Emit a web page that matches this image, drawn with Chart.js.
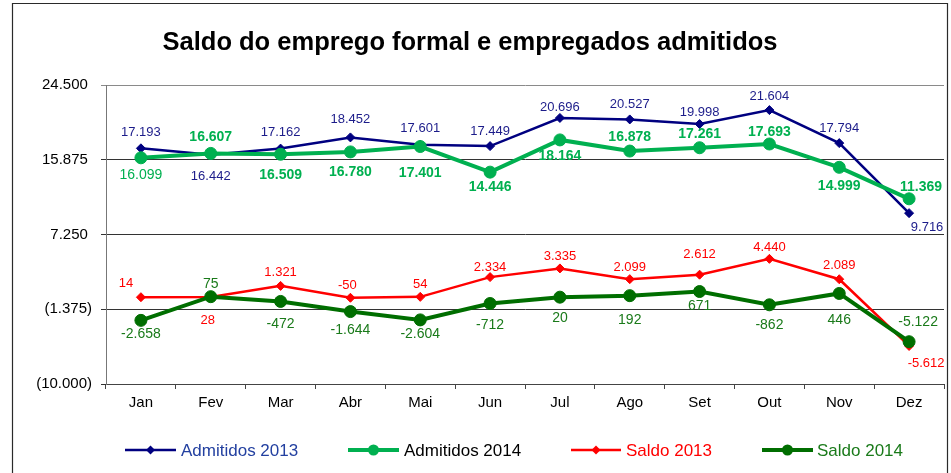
<!DOCTYPE html>
<html><head><meta charset="utf-8">
<script src="https://cdn.jsdelivr.net/npm/chart.js@4.4.0/dist/chart.umd.min.js"></script>
<style>html,body{margin:0;padding:0;background:#fff;overflow:hidden}#wrap{position:relative;width:951px;height:473px}</style>
</head><body><div id="wrap"><canvas id="c" width="951" height="473"></canvas></div>
<script>
const months = ['Jan','Fev','Mar','Abr','Mai','Jun','Jul','Ago','Set','Out','Nov','Dez'];
const admitidos2013 = [17193,16442,17162,18452,17601,17449,20696,20527,19998,21604,17794,9716];
const admitidos2014 = [16099,16607,16509,16780,17401,14446,18164,16878,17261,17693,14999,11369];
const saldo2013 = [14,28,1321,-50,54,2334,3335,2099,2612,4440,2089,-5612];
const saldo2014 = [-2658,75,-472,-1644,-2604,-712,20,192,671,-862,446,-5122];
const yTicks = [-10000,-1375,7250,15875,24500];
const seriesNames = ['Admitidos 2013','Admitidos 2014','Saldo 2013','Saldo 2014'];
const chartTitle = 'Saldo do emprego formal e empregados admitidos';

const FONT = '"Liberation Sans", Arial, sans-serif';

// label placement (style): [dx, dy] offsets from each point
const labelOffsets = [
 [[0,-16],[0,22],[0,-16],[0,-18],[0,-16],[0,-15],[0,-11],[0,-15],[0,-12],[0,-14],[0,-15],[18,14]],
 [[0,17],[0,-16],[0,21],[0,20],[0,27],[0,15],[0,16],[0,-14],[0,-14],[0,-12],[0,19],[12,-12]],
 [[-15,-14],[-3,23],[0,-13],[-3,-12],[0,-12],[0,-10],[0,-12],[0,-12],[0,-20],[0,-11],[0,-14],[17,17]],
 [[0,14],[0,-13],[0,23],[0,19],[0,14],[0,22],[0,21],[0,24],[0,15],[0,20],[0,27],[9,-20]]
];
const labelStyles = [
 {color:'#1c1c8a', font:'13px '+FONT},
 {color:'#00b050', font:'bold 14px '+FONT},
 {color:'#ff0000', font:'13px '+FONT},
 {color:'#1a7a1a', font:'14px '+FONT}
];
// per-point font override (style): Admitidos 2014, Jan shown in normal weight
const labelFontOverride = {'1-0':'14px '+FONT};
const legendItems = [
 {x0:125,x1:176,tx:181,color:'#000080',text:'#2340a0',lw:2.5,style:'d',r:4.5},
 {x0:348,x1:399,tx:404,color:'#00b050',text:'#000000',lw:4,style:'c',r:5.5},
 {x0:571,x1:621,tx:626,color:'#ff0000',text:'#ff0000',lw:2.5,style:'d',r:4.5},
 {x0:762,x1:813,tx:817,color:'#006e00',text:'#1a7a1a',lw:4,style:'c',r:5.5}
];

function thousands(v){
  return Math.abs(Math.round(v)).toString().replace(/\B(?=(\d{3})+(?!\d))/g,'.');
}
function fmtLabel(v){ return (v<0?'-':'')+thousands(v); }
function fmtTick(v){ return v<0 ? '('+thousands(v)+')' : thousands(v)+' '; }

function drawMarker(ctx, style, x, y, r, color){
  ctx.save();
  ctx.fillStyle = color;
  ctx.beginPath();
  if(style==='d'){
    ctx.moveTo(x, y-r); ctx.lineTo(x+r, y); ctx.lineTo(x, y+r); ctx.lineTo(x-r, y); ctx.closePath();
  } else {
    ctx.arc(x, y, r, 0, Math.PI*2);
  }
  ctx.fill();
  ctx.restore();
}

const decoPlugin = {
  id:'deco',
  beforeDraw(chart){
    const ctx = chart.ctx;
    ctx.save();
    ctx.fillStyle='#fff';
    ctx.fillRect(0,0,chart.width,chart.height);
    ctx.strokeStyle='#2a2a2a';
    ctx.lineWidth=1.2;
    ctx.beginPath();
    ctx.moveTo(12.5,480); ctx.lineTo(12.5,3.5); ctx.lineTo(947.5,3.5); ctx.lineTo(947.5,480);
    ctx.stroke();
    ctx.fillStyle='#000';
    ctx.font='bold 25.5px '+FONT;
    ctx.textAlign='center'; ctx.textBaseline='middle';
    ctx.fillText(chartTitle, 470, 43);
    ctx.restore();
  },
  afterDatasetsDraw(chart){
    const ctx = chart.ctx;
    ctx.save();
    ctx.textAlign='center'; ctx.textBaseline='middle';
    chart.data.datasets.forEach((ds, di)=>{
      const meta = chart.getDatasetMeta(di);
      ctx.fillStyle = labelStyles[di].color;
      meta.data.forEach((pt, i)=>{
        ctx.font = labelFontOverride[di+'-'+i] || labelStyles[di].font;
        const off = labelOffsets[di][i];
        ctx.fillText(fmtLabel(ds.data[i]), pt.x+off[0], pt.y+off[1]);
      });
    });
    ctx.restore();
  },
  afterDraw(chart){
    const ctx = chart.ctx;
    ctx.save();
    const y = 450;
    ctx.font = '17px '+FONT;
    ctx.textAlign='left'; ctx.textBaseline='middle';
    legendItems.forEach((it, i)=>{
      ctx.strokeStyle = it.color; ctx.lineWidth = it.lw;
      ctx.beginPath(); ctx.moveTo(it.x0, y); ctx.lineTo(it.x1, y); ctx.stroke();
      drawMarker(ctx, it.style, (it.x0+it.x1)/2, y, it.r, it.color);
      ctx.fillStyle = it.text;
      ctx.fillText(seriesNames[i], it.tx, y+1);
    });
    ctx.restore();
  }
};

new Chart(document.getElementById('c'), {
  type:'line',
  data:{
    labels: months,
    datasets:[
      {label:seriesNames[0], data:admitidos2013, borderColor:'#000080', backgroundColor:'#000080', borderWidth:2.5, pointStyle:'rectRot', pointRadius:4.5, pointBorderWidth:1, order:4, tension:0},
      {label:seriesNames[1], data:admitidos2014, borderColor:'#00b050', backgroundColor:'#00b050', borderWidth:4, pointStyle:'circle', pointRadius:6, pointBorderWidth:1, order:3, tension:0},
      {label:seriesNames[2], data:saldo2013, borderColor:'#ff0000', backgroundColor:'#ff0000', borderWidth:2.5, pointStyle:'rectRot', pointRadius:4.5, pointBorderWidth:1, order:2, tension:0},
      {label:seriesNames[3], data:saldo2014, borderColor:'#006e00', backgroundColor:'#006e00', borderWidth:4, pointStyle:'circle', pointRadius:6, pointBorderWidth:1, order:1, tension:0}
    ]
  },
  options:{
    responsive:false, animation:false, devicePixelRatio:1,
    layout:{padding:{left:0,top:85,right:6,bottom:0}},
    plugins:{legend:{display:false}, title:{display:false}, tooltip:{enabled:false}},
    scales:{
      x:{
        offset:true,
        grid:{drawOnChartArea:false, drawTicks:true, tickLength:5, offset:true, color:'#444'},
        border:{color:'#444', width:1},
        ticks:{color:'#000', font:{family:FONT, size:15}, padding:5, maxRotation:0, autoSkip:false},
        afterFit(s){ s.height = 473-384; }
      },
      y:{
        min:-10000, max:24500,
        afterBuildTicks(s){ s.ticks = yTicks.map(v=>({value:v})); },
        grid:{color:(c)=> c.tick && c.tick.value===24500 ? '#8a8a8a' : '#333', drawTicks:true, tickLength:5, lineWidth:1},
        border:{color:'#777', width:1},
        ticks:{color:'#000', font:{family:FONT, size:15}, padding:9, callback:(v)=>fmtTick(v)},
        afterFit(s){ s.width = 106; }
      }
    }
  },
  plugins:[decoPlugin]
});
</script>
</body></html>
